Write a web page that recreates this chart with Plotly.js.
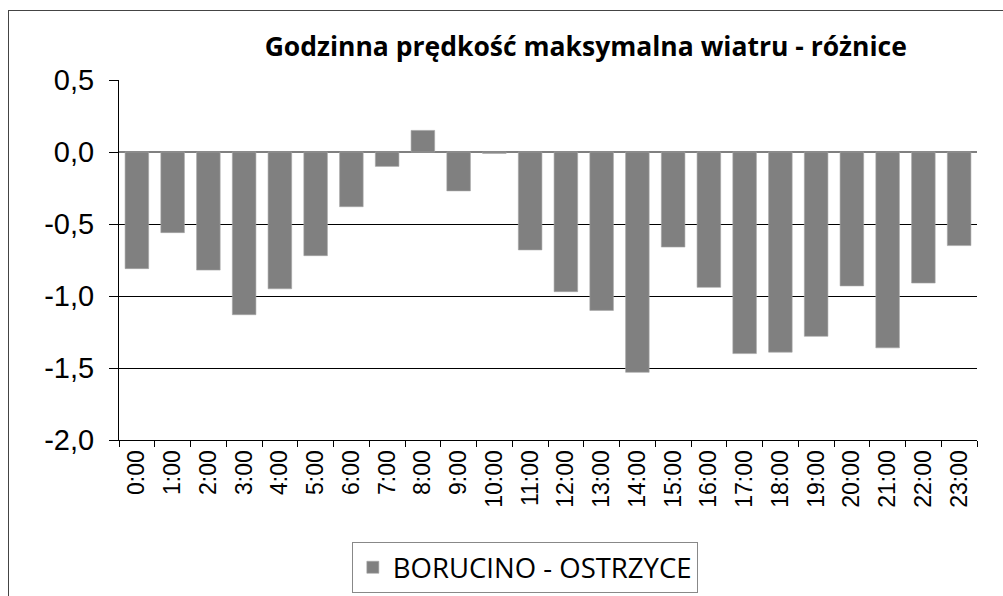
<!DOCTYPE html>
<html>
<head>
<meta charset="utf-8">
<script src="https://cdn.plot.ly/plotly-3.0.1.min.js"></script>
<style>
  html, body { margin: 0; padding: 0; background: #fff; }
  #chart { position: absolute; left: 0; top: 0; width: 1003px; height: 596px; }
  #frame { position: absolute; left: 8px; top: 10px; width: 1000px; height: 600px;
           border-left: 1px solid #444; border-top: 1px solid #444; pointer-events: none; }
</style>
</head>
<body>
<div id="chart"></div>
<div id="frame"></div>
<script>
// Hourly maximum wind speed: difference BORUCINO minus OSTRZYCE
const hours = ['0:00','1:00','2:00','3:00','4:00','5:00','6:00','7:00','8:00','9:00','10:00','11:00',
               '12:00','13:00','14:00','15:00','16:00','17:00','18:00','19:00','20:00','21:00','22:00','23:00'];
const difference = [-0.81, -0.56, -0.82, -1.13, -0.95, -0.72, -0.38, -0.10, 0.15, -0.27, -0.01, -0.68,
                    -0.97, -1.10, -1.53, -0.66, -0.94, -1.40, -1.39, -1.28, -0.93, -1.36, -0.91, -0.65];
const yTickValues = [0.5, 0, -0.5, -1, -1.5, -2];
const yTickLabels = ['0,5', '0,0', '-0,5', '-1,0', '-1,5', '-2,0'];
const seriesName = 'BORUCINO - OSTRZYCE';
const chartTitle = 'Godzinna prędkość maksymalna wiatru - różnice';

const trace = {
  type: 'bar',
  x: hours,
  y: difference,
  name: seriesName,
  showlegend: true,
  marker: { color: '#808080', line: { color: '#a6a6a6', width: 0.6 } },
  hoverinfo: 'x+y'
};

const layout = {
  width: 1003,
  height: 596,
  paper_bgcolor: 'rgba(0,0,0,0)',
  plot_bgcolor: '#fff',
  margin: { l: 119, r: 26, t: 80, b: 156, autoexpand: false },
  bargap: 0.34,
  title: {
    text: '<b>' + chartTitle + '</b>',
    font: { family: 'Open Sans, sans-serif', size: 26.5, color: '#000' },
    xref: 'paper', x: 0.544, xanchor: 'center',
    yref: 'container', y: 1 - 47 / 596, yanchor: 'middle'
  },
  xaxis: {
    type: 'category',
    tickangle: -90,
    tickson: 'boundaries',
    ticks: 'outside', ticklen: 6, tickcolor: '#000', tickwidth: 1,
    showline: true, linecolor: '#000', linewidth: 1,
    showgrid: false,
    tickfont: { family: 'Liberation Sans, Arial, sans-serif', size: 23, color: '#000' },
    fixedrange: true
  },
  yaxis: {
    range: [-2, 0.5],
    tickvals: yTickValues,
    ticktext: yTickLabels,
    ticks: 'outside', ticklen: 9, tickcolor: '#000', tickwidth: 1,
    showline: true, linecolor: '#000', linewidth: 1,
    showgrid: true, gridcolor: '#000', gridwidth: 1,
    zeroline: true, zerolinecolor: '#808080', zerolinewidth: 2,
    tickfont: { family: 'Liberation Sans, Arial, sans-serif', size: 29, color: '#000' },
    ticklabelstandoff: 9,
    fixedrange: true
  },
  legend: {
    orientation: 'h',
    xref: 'paper', x: 0.473, xanchor: 'center',
    yref: 'paper', y: -0.283, yanchor: 'top',
    bgcolor: '#fff',
    bordercolor: '#888', borderwidth: 1,
    font: { family: 'Open Sans, sans-serif', size: 27.5, color: '#000' }
  }
};

Plotly.newPlot('chart', [trace], layout, { displayModeBar: false, staticPlot: true });
</script>
</body>
</html>
